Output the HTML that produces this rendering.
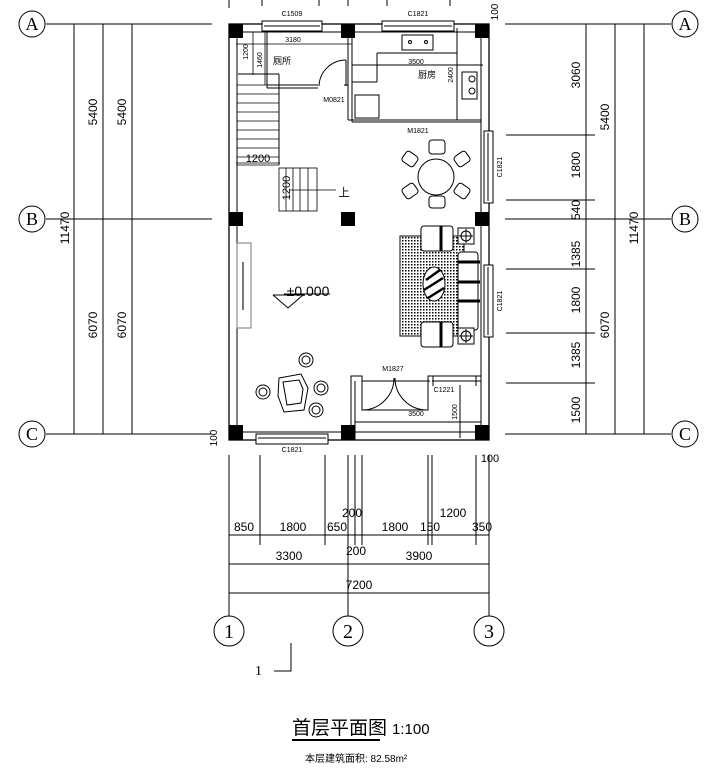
<!DOCTYPE html>
<html><head><meta charset="utf-8"><style>
body{margin:0;background:#fff}
svg{display:block}
text{font-family:"Liberation Sans","Noto Sans CJK SC",sans-serif;fill:#000}
text.s{font-family:"Liberation Serif",serif}
</style></head><body>
<svg width="706" height="775" viewBox="0 0 706 775" xmlns="http://www.w3.org/2000/svg">
<defs>
<pattern id="dots" width="3" height="3" patternUnits="userSpaceOnUse"><rect width="3" height="3" fill="#fff"/><rect width="1.5" height="1.5" fill="#000"/></pattern>
</defs>
<g stroke="#000" stroke-width="1" fill="none">
<line x1="46" y1="24" x2="212" y2="24"/><line x1="46" y1="219" x2="212" y2="219"/><line x1="46" y1="434" x2="212" y2="434"/>
<line x1="505" y1="24" x2="671" y2="24"/><line x1="505" y1="219" x2="671" y2="219"/><line x1="505" y1="434" x2="671" y2="434"/>
<line x1="74" y1="24" x2="74" y2="434"/><line x1="103" y1="24" x2="103" y2="434"/><line x1="132" y1="24" x2="132" y2="434"/>
<line x1="586" y1="24" x2="586" y2="434"/><line x1="615" y1="24" x2="615" y2="434"/><line x1="644" y1="24" x2="644" y2="434"/>
<line x1="506" y1="135" x2="595" y2="135"/><line x1="506" y1="200" x2="595" y2="200"/><line x1="506" y1="269" x2="595" y2="269"/><line x1="506" y1="333" x2="595" y2="333"/><line x1="506" y1="383" x2="595" y2="383"/>
<line x1="229" y1="455" x2="229" y2="616"/><line x1="260" y1="455" x2="260" y2="545"/><line x1="325" y1="455" x2="325" y2="545"/>
<line x1="348" y1="455" x2="348" y2="616"/><line x1="355" y1="455" x2="355" y2="545"/><line x1="362" y1="455" x2="362" y2="545"/>
<line x1="428" y1="455" x2="428" y2="545"/><line x1="432" y1="455" x2="432" y2="545"/><line x1="476" y1="455" x2="476" y2="545"/><line x1="489" y1="455" x2="489" y2="616"/>
<line x1="229" y1="535" x2="489" y2="535"/><line x1="229" y1="564" x2="489" y2="564"/><line x1="229" y1="593" x2="489" y2="593"/>
<line x1="229" y1="0" x2="229" y2="8"/><line x1="262" y1="0" x2="262" y2="6"/><line x1="319" y1="0" x2="319" y2="6"/><line x1="348" y1="0" x2="348" y2="6"/><line x1="387" y1="0" x2="387" y2="6"/><line x1="450" y1="0" x2="450" y2="6"/>
<circle cx="32" cy="24" r="13"/><circle cx="32" cy="219" r="13"/><circle cx="32" cy="434" r="13"/>
<circle cx="685" cy="24" r="13"/><circle cx="685" cy="219" r="13"/><circle cx="685" cy="434" r="13"/>
<circle cx="229" cy="631" r="15"/><circle cx="348" cy="631" r="15"/><circle cx="489" cy="631" r="15"/>
<rect x="229" y="24" width="260" height="416" stroke-width="1.3"/>
<rect x="237" y="32" width="244" height="400"/>
<line x1="348" y1="32" x2="348" y2="120"/><line x1="352" y1="32" x2="352" y2="122"/>
<line x1="352" y1="122" x2="481" y2="122"/><line x1="348" y1="120" x2="481" y2="120"/>
<line x1="267" y1="85" x2="318" y2="85"/><line x1="267" y1="88" x2="318" y2="88"/><line x1="344" y1="85" x2="348" y2="85"/>
<line x1="267" y1="32" x2="267" y2="88"/>
<line x1="238" y1="74" x2="279" y2="74"/><line x1="279" y1="74" x2="279" y2="165"/>
<path d="M346 60 A27 27 0 0 0 319 86"/><line x1="346" y1="60" x2="346" y2="86"/>
<g stroke-width="0.8">
<line x1="237" y1="85" x2="279" y2="85"/><line x1="237" y1="94" x2="279" y2="94"/><line x1="237" y1="103" x2="279" y2="103"/><line x1="237" y1="112" x2="279" y2="112"/><line x1="237" y1="121" x2="279" y2="121"/><line x1="237" y1="130" x2="279" y2="130"/><line x1="237" y1="139" x2="279" y2="139"/><line x1="237" y1="148" x2="279" y2="148"/><line x1="237" y1="157" x2="279" y2="157"/>
<line x1="237" y1="165" x2="279" y2="165"/>
<rect x="279" y="168" width="38" height="43"/><line x1="286" y1="168" x2="286" y2="211"/><line x1="293" y1="168" x2="293" y2="211"/><line x1="300" y1="168" x2="300" y2="211"/><line x1="308" y1="168" x2="308" y2="211"/>
<line x1="290" y1="190" x2="336" y2="190"/>
<line x1="236" y1="163" x2="280" y2="163"/>
<line x1="236" y1="44" x2="352" y2="44"/><line x1="253" y1="32" x2="253" y2="75"/><line x1="265" y1="32" x2="265" y2="85"/>
</g>
<rect x="402" y="35" width="31" height="15"/><circle cx="410" cy="42" r="1.5"/><circle cx="426" cy="42" r="1.5"/>
<line x1="377" y1="53" x2="457" y2="53"/><line x1="377" y1="53" x2="377" y2="82"/><line x1="352" y1="82" x2="377" y2="82"/>
<line x1="457" y1="28" x2="457" y2="120"/><line x1="352" y1="65" x2="483" y2="65"/>
<rect x="462" y="72" width="15" height="27"/><circle cx="472" cy="79" r="3"/><circle cx="472" cy="91" r="3"/>
<rect x="355" y="95" width="24" height="23"/>
<circle cx="436" cy="177" r="18"/>
<rect x="429" y="140" width="16" height="14" rx="3"/><rect x="429" y="196" width="16" height="12" rx="3"/>
<rect x="403" y="153" width="14" height="12" rx="3" transform="rotate(35 410 159)"/>
<rect x="455" y="153" width="14" height="12" rx="3" transform="rotate(-35 462 159)"/>
<rect x="403" y="185" width="14" height="12" rx="3" transform="rotate(-35 410 191)"/>
<rect x="455" y="185" width="14" height="12" rx="3" transform="rotate(35 462 191)"/>
<rect x="400" y="236" width="64" height="100" fill="url(#dots)" stroke="#000"/>
<rect x="421" y="226" width="32" height="25" rx="3" fill="#fff"/><rect x="421" y="322" width="32" height="25" rx="3" fill="#fff"/>
<line x1="441" y1="226" x2="441" y2="251" stroke-width="3"/><line x1="441" y1="322" x2="441" y2="347" stroke-width="3"/>
<rect x="458" y="252" width="20" height="78" rx="3" fill="#fff"/>
<line x1="458" y1="262" x2="480" y2="262" stroke-width="3"/><line x1="458" y1="282" x2="480" y2="282" stroke-width="3"/><line x1="458" y1="301" x2="480" y2="301" stroke-width="3"/>
<ellipse cx="434" cy="284" rx="11" ry="17" fill="#fff"/>
<line x1="426" y1="280" x2="440" y2="270" stroke-width="2.5"/><line x1="424" y1="290" x2="443" y2="278" stroke-width="2.5"/><line x1="428" y1="298" x2="444" y2="288" stroke-width="2.5"/>
<rect x="458" y="228" width="16" height="16" fill="#fff"/><circle cx="466" cy="236" r="5"/><line x1="466" y1="229" x2="466" y2="243"/><line x1="459" y1="236" x2="473" y2="236"/>
<rect x="458" y="328" width="16" height="16" fill="#fff"/><circle cx="466" cy="336" r="5"/><line x1="466" y1="329" x2="466" y2="343"/><line x1="459" y1="336" x2="473" y2="336"/>
<rect x="237" y="243" width="14" height="85" stroke="#777"/><line x1="243" y1="262" x2="243" y2="310" stroke="#777" stroke-width="2"/>
<polyline points="273,295 303,295 288,308 273,295"/><line x1="284" y1="294" x2="330" y2="294"/>
<path d="M279 378 l22 -4 l7 14 l-4 22 l-20 2 l-6 -16 z"/><path d="M283 382 l16 -2 l4 9 l-2 14 l-14 2 z"/>
<circle cx="306" cy="360" r="7"/><circle cx="306" cy="360" r="4"/><circle cx="321" cy="388" r="7"/><circle cx="321" cy="388" r="4"/>
<circle cx="263" cy="392" r="7"/><circle cx="263" cy="392" r="4"/><circle cx="316" cy="410" r="7"/><circle cx="316" cy="410" r="4"/>
<polyline points="351,440 351,376 362,376 362,410 428,410 428,376 481,376"/>
<line x1="355" y1="381" x2="355" y2="440"/><line x1="362" y1="381" x2="430" y2="381"/><line x1="432" y1="381" x2="481" y2="381"/>
<line x1="433" y1="376" x2="433" y2="386"/><line x1="476" y1="376" x2="476" y2="386"/><line x1="355" y1="422" x2="481" y2="422"/>
<path d="M362 410 A32 32 0 0 0 394 378"/><path d="M427 410 A32 32 0 0 1 395 378"/>
<line x1="460" y1="385" x2="460" y2="438"/>
</g>
<g fill="#000">
<rect x="229" y="24" width="14" height="14"/><rect x="341" y="24" width="14" height="14"/><rect x="475" y="24" width="14" height="14"/>
<rect x="229" y="212" width="14" height="14"/><rect x="341" y="212" width="14" height="14"/><rect x="475" y="212" width="14" height="14"/>
<rect x="229" y="425" width="14" height="15"/><rect x="341" y="425" width="14" height="15"/><rect x="475" y="425" width="14" height="15"/>
</g>
<g fill="#fff" stroke="#000">
<rect x="262" y="21" width="60" height="10"/><line x1="264" y1="26" x2="320" y2="26"/>
<rect x="382" y="21" width="72" height="10"/><line x1="384" y1="26" x2="452" y2="26"/>
<rect x="256" y="434" width="72" height="10"/><line x1="258" y1="438" x2="326" y2="438"/>
<rect x="484" y="131" width="9" height="72"/><line x1="488" y1="133" x2="488" y2="201"/>
<rect x="484" y="265" width="9" height="72"/><line x1="488" y1="267" x2="488" y2="335"/>
</g>
<g font-size="18" text-anchor="middle">
<text class="s" x="32" y="30">A</text><text class="s" x="32" y="225">B</text><text class="s" x="32" y="440">C</text>
<text class="s" x="685" y="30">A</text><text class="s" x="685" y="225">B</text><text class="s" x="685" y="440">C</text>
<text class="s" x="229" y="638" font-size="20">1</text><text class="s" x="348" y="638" font-size="20">2</text><text class="s" x="489" y="638" font-size="20">3</text>
</g>
<g font-size="12" text-anchor="middle">
<text transform="translate(97,112) rotate(-90)">5400</text><text transform="translate(126,112) rotate(-90)">5400</text>
<text transform="translate(97,325) rotate(-90)">6070</text><text transform="translate(126,325) rotate(-90)">6070</text>
<text transform="translate(69,228) rotate(-90)">11470</text>
<text transform="translate(580,75) rotate(-90)">3060</text><text transform="translate(580,165) rotate(-90)">1800</text><text transform="translate(580,210) rotate(-90)">540</text>
<text transform="translate(580,254) rotate(-90)">1385</text><text transform="translate(580,300) rotate(-90)">1800</text><text transform="translate(580,355) rotate(-90)">1385</text><text transform="translate(580,410) rotate(-90)">1500</text>
<text transform="translate(609,117) rotate(-90)">5400</text><text transform="translate(609,325) rotate(-90)">6070</text><text transform="translate(638,228) rotate(-90)">11470</text>
<text transform="translate(217,438) rotate(-90)" font-size="10">100</text>
<text transform="translate(498,12) rotate(-90)" font-size="10">100</text>
<text x="490" y="462" font-size="11">100</text>
<text x="244" y="531">850</text><text x="293" y="531">1800</text><text x="337" y="531">650</text><text x="352" y="517">200</text>
<text x="395" y="531">1800</text><text x="430" y="531">150</text><text x="453" y="517">1200</text><text x="482" y="531">350</text>
<text x="289" y="560">3300</text><text x="356" y="555">200</text><text x="419" y="560">3900</text><text x="359" y="589">7200</text>
<text x="308" y="296" font-size="14">±0.000</text>
<text x="258" y="162" font-size="11">1200</text>
<text transform="translate(290,188) rotate(-90)" font-size="11">1200</text>
<text x="344" y="196" font-size="11">上</text>
</g>
<g font-size="7" text-anchor="middle">
<text x="292" y="16">C1509</text><text x="418" y="16">C1821</text><text x="292" y="452">C1821</text>
<text x="293" y="42">3180</text><text x="416" y="64">3500</text><text x="416" y="416">3500</text>
<text x="334" y="102">M0821</text><text x="418" y="133">M1821</text><text x="393" y="371">M1827</text><text x="444" y="392">C1221</text>
<text transform="translate(502,167) rotate(-90)">C1821</text><text transform="translate(502,301) rotate(-90)">C1821</text>
<text transform="translate(248,52) rotate(-90)">1200</text><text transform="translate(262,60) rotate(-90)">1460</text>
<text transform="translate(453,75) rotate(-90)">2400</text><text transform="translate(457,412) rotate(-90)">1500</text>
<text x="282" y="64" font-size="9">厕所</text><text x="427" y="78" font-size="9">厨房</text>
</g>
<text class="s" x="255" y="675" font-size="14">1</text>
<polyline points="274,671 291,671 291,643" fill="none" stroke="#000"/>
<text x="292" y="734" font-size="19">首层平面图</text>
<line x1="292" y1="740" x2="380" y2="740" stroke="#000" stroke-width="2"/>
<text x="392" y="734" font-size="15">1:100</text>
<text x="305" y="762" font-size="10">本层建筑面积: 82.58m²</text>
</svg>
</body></html>
